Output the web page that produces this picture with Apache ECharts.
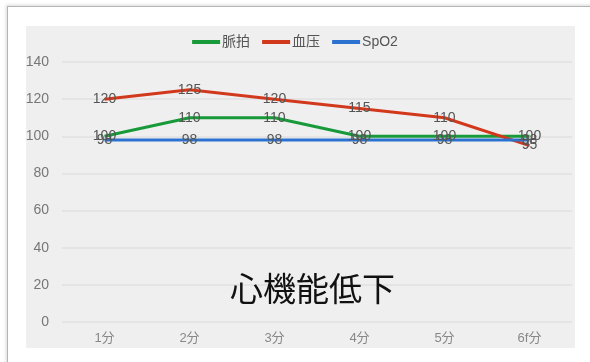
<!DOCTYPE html>
<html>
<head>
<meta charset="utf-8">
<script src="https://cdn.jsdelivr.net/npm/echarts@6/dist/echarts.min.js"></script>
<style>
  html, body { margin: 0; padding: 0; background: #fff; }
  #frame {
    position: absolute; left: 7px; top: 6px; width: 600px; height: 400px;
    border-left: 1.5px solid #b5b5b5; border-top: 1.5px solid #b5b5b5;
    box-shadow: -1px -1px 3px rgba(0,0,0,0.15);
  }
  #chart { position: absolute; left: 0; top: 0; width: 590px; height: 362px; }
</style>
</head>
<body>
<div id="frame"></div>
<div id="chart"></div>
<script>
// time steps after onset
const categories = ['1分', '2分', '3分', '4分', '5分', '6f分'];
// vital signs per minute
const pulse = [100, 110, 110, 100, 100, 100];
const bloodPressure = [120, 125, 120, 115, 110, 95];
const spo2 = [98, 98, 98, 98, 98, 98];
// y-axis ticks
const yMin = 0, yMax = 140, yStep = 20;

const font = '"Liberation Sans", "Noto Sans CJK JP", sans-serif';
const cjkFont = '"Noto Sans CJK JP", sans-serif';
const chart = echarts.init(document.getElementById('chart'), null, { renderer: 'canvas' });

function lineSeries(name, data, color) {
  return {
    name, type: 'line', data,
    symbol: 'circle', symbolSize: 0, showSymbol: true,
    lineStyle: { color, width: 3 },
    itemStyle: { color },
    label: {
      show: true, position: 'inside', color: '#555', fontSize: 14, fontFamily: font
    },
    z: 3
  };
}

chart.setOption({
  animation: false,
  graphic: [{
    type: 'rect', left: 26, top: 26, z: -10,
    shape: { width: 549, height: 322 },
    style: { fill: '#efefef' }
  }, {
    type: 'text', left: 230, top: 272, z: 10,
    style: { text: '心機能低下', fontSize: 33, fill: '#111', fontFamily: cjkFont }
  }],
  legend: {
    top: 30, left: 'center',
    itemWidth: 28, itemHeight: 4, itemGap: 12,
    icon: 'rect',
    textStyle: { color: '#555', fontSize: 14, fontFamily: font, padding: [0, 0, 0, -3] },
    data: ['脈拍', '血压', 'SpO2']
  },
  grid: { left: 62, right: 18, top: 62, bottom: 40 },
  xAxis: {
    type: 'category', data: categories, boundaryGap: true,
    axisLine: { show: false }, axisTick: { show: false },
    axisLabel: { color: '#888', fontSize: 13, fontFamily: font, margin: 10 }
  },
  yAxis: {
    type: 'value', min: yMin, max: yMax, interval: yStep,
    axisLine: { show: false }, axisTick: { show: false },
    axisLabel: { color: '#777', fontSize: 14, fontFamily: font, margin: 13 },
    splitLine: { lineStyle: { color: '#e0e0e0', width: 1.5 } }
  },
  series: [
    lineSeries('脈拍', pulse, '#199a3a'),
    lineSeries('血压', bloodPressure, '#d2391c'),
    lineSeries('SpO2', spo2, '#2b72d0')
  ]
});
</script>
</body>
</html>
